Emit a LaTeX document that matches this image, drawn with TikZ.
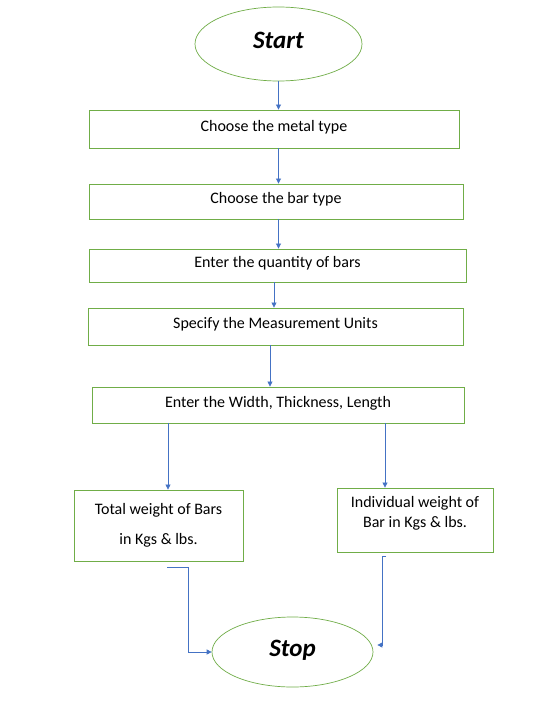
\documentclass[tikz,border=0pt]{standalone}
\usepackage{fontspec}
\setmainfont{Carlito}
\usetikzlibrary{shapes.geometric,arrows.meta}
\definecolor{boxgreen}{HTML}{70AD47}
\definecolor{arrowblue}{HTML}{4472C4}

\begin{document}
\begin{tikzpicture}[x=1pt,y=-1pt,
    terminal/.style={ellipse,draw=boxgreen,line width=0.7pt,inner sep=0,text height=17pt,text depth=8pt,font=\ovalfontsize},
    stepbox/.style={rectangle,draw=boxgreen,line width=0.9pt,inner sep=0,font=\boxfontsize},
    oneline/.style={text height=11pt,text depth=7pt},
    flow/.style={draw=arrowblue,line width=0.8pt,-{Triangle[length=5pt,width=5pt]}}]
    \pgfmathsetmacro{\pagewidth}{542}
    \pgfmathsetmacro{\pageheight}{701}
    \providecommand{\ovalfontsize}{\fontsize{25}{30}\selectfont}
    \providecommand{\boxfontsize}{\fontsize{16}{19}\selectfont}
    \fill[white] (0,0) rectangle (\pagewidth,\pageheight);
    \useasboundingbox (0,0) rectangle (\pagewidth,\pageheight);
    \node[terminal,minimum width=167pt,minimum height=74pt] (start) at (278.5,44) {\textbf{\textit{Start}}};
    \node[stepbox,oneline,minimum width=370pt,minimum height=38pt] (metal) at (274,129) {Choose the metal type};
    \node[stepbox,oneline,minimum width=374pt,minimum height=35pt] (bar) at (276,201.5) {Choose the bar type};
    \node[stepbox,oneline,minimum width=377pt,minimum height=33pt] (qty) at (277.5,265.5) {Enter the quantity of bars};
    \node[stepbox,oneline,minimum width=375pt,minimum height=37pt] (units) at (275.5,326.5) {Specify the Measurement Units};
    \node[stepbox,oneline,minimum width=372pt,minimum height=36pt] (dims) at (278,405) {Enter the Width, Thickness, Length};
    \node[stepbox,minimum width=169pt,minimum height=71pt,align=center] (total) at (158.5,525.5) {Total weight of Bars\\[11pt]in Kgs \& lbs.};
    \node[stepbox,minimum width=156pt,minimum height=64pt,
        label={[anchor=north,yshift=-5pt,align=center,font=\boxfontsize]north:{Individual weight of\\[1.5pt]Bar in Kgs \& lbs.}}] (indiv) at (415,520) {};
    \node[terminal,minimum width=161pt,minimum height=70pt] (stop) at (292.5,652) {\textbf{\textit{Stop}}};
    % down the main column
    \draw[flow] (start.south) -- (start.south |- metal.north);
    \draw[flow] (start |- metal.south) -- (start |- bar.north);
    \draw[flow] (start |- bar.south) -- (start |- qty.north);
    \draw[flow] (metal |- qty.south) -- (metal |- units.north);
    \coordinate (u2d) at ([xshift=-5.5pt]units.south);
    \draw[flow] (u2d) -- (u2d |- dims.north);
    % the two results
    \coordinate (d2t) at ([xshift=-110pt]dims.south);
    \coordinate (d2i) at ([xshift=107pt]dims.south);
    \draw[flow] (d2t) -- (d2t |- total.north);
    \draw[flow] (d2i) -- (d2i |- indiv.north);
    \coordinate (t2s) at ([xshift=8.5pt,yshift=-6pt]total.south);
    \coordinate (i2s) at ([xshift=-29pt,yshift=-4pt]indiv.south);
    \draw[flow] (t2s) -| ([xshift=-23pt]stop.west) -- (stop.west);
    \draw[flow] (i2s) -| ([xshift=9pt,yshift=7pt]stop.east) -- ([xshift=4pt,yshift=7pt]stop.east);
\end{tikzpicture}
\end{document}
